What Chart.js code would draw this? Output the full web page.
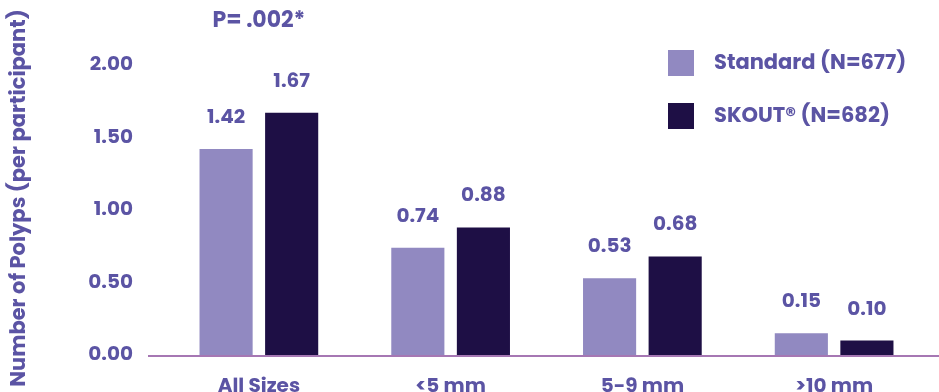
<!DOCTYPE html>
<html>
<head>
<meta charset="utf-8">
<script src="https://cdn.jsdelivr.net/npm/chart.js@4"></script>
<style>
  body { margin: 0; background: #fff; }
  canvas { display: block; }
</style>
</head>
<body>
<canvas id="polypChart" width="939" height="392"></canvas>
<script>
// Chart data
const categories = ['All Sizes', '<5 mm', '5-9 mm', '>10 mm'];
const standardValues = [1.42, 0.74, 0.53, 0.15];
const skoutValues = [1.67, 0.88, 0.68, 0.10];
const seriesNames = ['Standard (N=677)', 'SKOUT\u00AE (N=682)'];
const yTicks = [0, 0.5, 1, 1.5, 2];
const pValueText = 'P= .002*';
const yTitle = 'Number of Polyps (per participant)';

const TEXT = '#5b54a4';
const FONT = 'Poppins, "Open Sans", sans-serif';
const COLORS = ['#9189c1', '#1e0f45'];

// value labels, p value, legend, y title and the base line
const extras = {
    id: 'extras',
    afterDatasetsDraw(chart) {
        const ctx = chart.ctx;
        const y0 = chart.scales.y.getPixelForValue(0);

        ctx.save();
        ctx.strokeStyle = '#a677b3';
        ctx.lineWidth = 2;
        ctx.beginPath();
        ctx.moveTo(148, y0 + 1);
        ctx.lineTo(chart.width, y0 + 1);
        ctx.stroke();

        ctx.fillStyle = TEXT;
        ctx.font = 'bold 20px ' + FONT;
        ctx.textAlign = 'center';
        ctx.textBaseline = 'middle';
        chart.data.datasets.forEach((ds, i) => {
            chart.getDatasetMeta(i).data.forEach((bar, j) => {
                ctx.fillText(ds.data[j].toFixed(2), bar.x, bar.y - 31);
            });
        });

        // p value over the first group
        const first = chart.getDatasetMeta(0).data[0];
        const second = chart.getDatasetMeta(1).data[0];
        ctx.font = 'bold 22px ' + FONT;
        ctx.fillText(pValueText, (first.x + second.x) / 2, 21);

        // legend
        ctx.font = 'bold 21px ' + FONT;
        ctx.textAlign = 'left';
        seriesNames.forEach((name, i) => {
            const cy = 63 + i * 53;
            ctx.fillStyle = COLORS[i];
            ctx.fillRect(668, cy - 13, 26, 26);
            ctx.fillStyle = TEXT;
            ctx.fillText(name, 714, cy + 1);
        });

        // y axis title
        ctx.translate(20, 198);
        ctx.rotate(-Math.PI / 2);
        ctx.textAlign = 'center';
        ctx.fillText(yTitle, 0, 0);
        ctx.restore();
    }
};

new Chart(document.getElementById('polypChart').getContext('2d'), {
    type: 'bar',
    data: {
        labels: categories,
        datasets: [
            { label: seriesNames[0], data: standardValues, backgroundColor: COLORS[0] },
            { label: seriesNames[1], data: skoutValues, backgroundColor: COLORS[1] }
        ]
    },
    options: {
        responsive: false,
        animation: false,
        events: [],
        categoryPercentage: 0.684,
        barPercentage: 0.81,
        layout: { padding: { top: 65, right: 9, left: 0, bottom: 0 } },
        plugins: {
            legend: { display: false },
            tooltip: { enabled: false }
        },
        scales: {
            x: {
                grid: { display: false, drawTicks: false },
                border: { display: false },
                ticks: {
                    color: TEXT,
                    font: { family: FONT, size: 20, weight: 'bold' },
                    padding: 20
                },
                afterFit(scale) { scale.height = 37; }
            },
            y: {
                min: 0,
                max: 2,
                afterBuildTicks(scale) { scale.ticks = yTicks.map(v => ({ value: v })); },
                grid: { display: false, drawTicks: false },
                border: { display: false },
                ticks: {
                    color: TEXT,
                    font: { family: FONT, size: 20, weight: 'bold' },
                    padding: 30,
                    callback: v => v.toFixed(2)
                },
                afterFit(scale) {
                    scale.width = 163;
                    scale.paddingTop = 0;
                    scale.paddingBottom = 0;
                }
            }
        }
    },
    plugins: [extras]
});
</script>
</body>
</html>
